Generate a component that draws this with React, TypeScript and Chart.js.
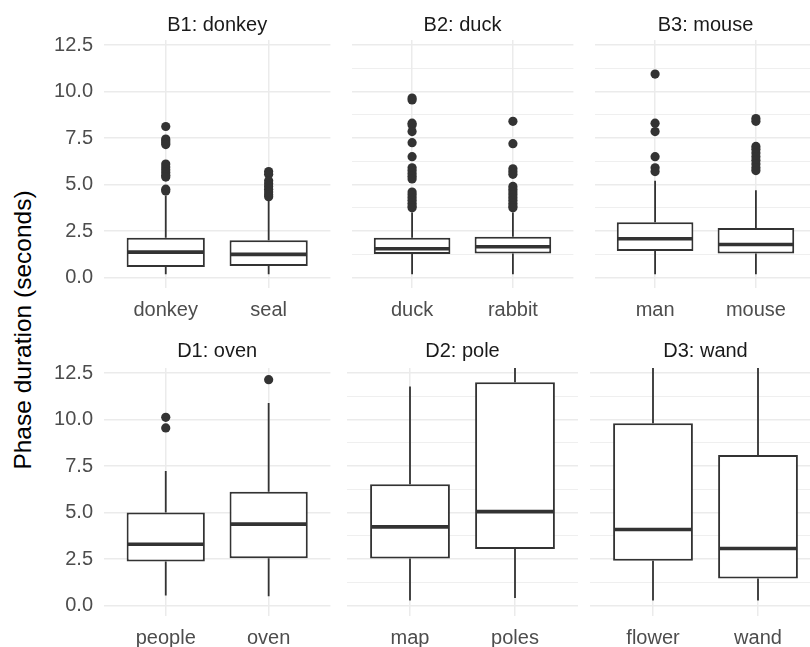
import React, { useEffect, useRef } from 'react';
import { Chart, registerables } from 'chart.js';

Chart.register(...registerables);

// ---------------- data ----------------
const facetTitles = ['B1: donkey', 'B2: duck', 'B3: mouse', 'D1: oven', 'D2: pole', 'D3: wand'];
const categories = [
  ['donkey', 'seal'],
  ['duck', 'rabbit'],
  ['man', 'mouse'],
  ['people', 'oven'],
  ['map', 'poles'],
  ['flower', 'wand'],
];
const whiskerLow = [
  [0.18, 0.18],
  [0.18, 0.18],
  [0.18, 0.18],
  [0.54, 0.5],
  [0.27, 0.41],
  [0.27, 0.27],
];
const q1 = [
  [0.57, 0.62],
  [1.27, 1.29],
  [1.43, 1.29],
  [2.37, 2.55],
  [2.53, 3.04],
  [2.41, 1.46],
];
const medians = [
  [1.37, 1.25],
  [1.55, 1.66],
  [2.09, 1.78],
  [3.3, 4.38],
  [4.23, 5.05],
  [4.09, 3.07],
];
const q3 = [
  [2.14, 2.01],
  [2.14, 2.2],
  [2.98, 2.66],
  [5.0, 6.12],
  [6.52, 12.01],
  [9.8, 8.09],
];
const whiskerHigh = [
  [4.4, 4.2],
  [3.5, 3.5],
  [5.2, 4.69],
  [7.23, 10.89],
  [11.78, 13.6],
  [13.6, 13.6],
];
const outliers = [
  [
    [8.12, 7.45, 7.35, 7.25, 7.15, 6.1, 5.95, 5.8, 5.65, 5.5, 5.4, 4.75, 4.65],
    [5.7, 5.55, 5.2, 5.05, 4.9, 4.75, 4.6, 4.45, 4.35],
  ],
  [
    [9.65, 9.55, 8.3, 8.2, 7.85, 7.25, 6.5, 5.9, 5.75, 5.6, 5.45, 5.3, 4.6, 4.45, 4.3, 4.15, 4.0, 3.85, 3.75],
    [8.4, 7.2, 5.85, 5.7, 5.55, 4.9, 4.75, 4.6, 4.45, 4.3, 4.15, 4.0, 3.85, 3.75],
  ],
  [
    [10.94, 8.3, 7.85, 6.5, 5.9, 5.7],
    [8.55, 8.4, 7.05, 6.9, 6.7, 6.5, 6.3, 6.1, 5.9, 5.75],
  ],
  [
    [10.12, 9.55],
    [12.14],
  ],
  [[], []],
  [[], []],
];
const yTicks = [0, 2.5, 5, 7.5, 10, 12.5];
const yTickLabels = ['0.0', '2.5', '5.0', '7.5', '10.0', '12.5'];
const yMinorTicks = [1.25, 3.75, 6.25, 8.75, 11.25];
const yAxisTitle = 'Phase duration (seconds)';

// ---------------- style / layout ----------------
const FONT = '"Liberation Sans", Arial, Helvetica, sans-serif';
const INK = '#333333';
const GRID = '#EBEBEB';
const PANEL_W = 231;
const PANEL_H = 248;
const TITLE_H = 40;
const XAXIS_H = 40;
const Y_AXIS_W = 64;
const PANEL_LEFTS = [104, 347, 590];
const ROW_TOPS = [0, 328];
const Y_MIN = -0.56;
const Y_MAX = 12.77;

function makeBoxPlugin(f: number) {
  return {
    id: 'boxParts' + f,
    beforeDatasetsDraw(chart: any) {
      const { ctx, chartArea } = chart;
      const xs = chart.scales.x;
      const ys = chart.scales.y;
      ctx.save();
      ctx.beginPath();
      ctx.rect(chartArea.left, chartArea.top, chartArea.right - chartArea.left, chartArea.bottom - chartArea.top);
      ctx.clip();
      ctx.strokeStyle = INK;
      ctx.lineWidth = 1.8;
      for (let j = 0; j < categories[f].length; j++) {
        const px = xs.getPixelForValue(j);
        ctx.beginPath();
        ctx.moveTo(px, ys.getPixelForValue(whiskerHigh[f][j]));
        ctx.lineTo(px, ys.getPixelForValue(q3[f][j]));
        ctx.moveTo(px, ys.getPixelForValue(q1[f][j]));
        ctx.lineTo(px, ys.getPixelForValue(whiskerLow[f][j]));
        ctx.stroke();
      }
      ctx.restore();
    },
    afterDatasetsDraw(chart: any) {
      const { ctx } = chart;
      const ys = chart.scales.y;
      const meta = chart.getDatasetMeta(1);
      ctx.save();
      ctx.strokeStyle = INK;
      ctx.lineWidth = 3.6;
      for (let j = 0; j < meta.data.length; j++) {
        const bar = meta.data[j] as any;
        const py = ys.getPixelForValue(medians[f][j]);
        ctx.beginPath();
        ctx.moveTo(bar.x - bar.width / 2 + 1, py);
        ctx.lineTo(bar.x + bar.width / 2 - 1, py);
        ctx.stroke();
      }
      ctx.restore();
    },
  };
}

function Panel({ f }: { f: number }) {
  const ref = useRef<HTMLCanvasElement | null>(null);
  const col = f % 3;
  const row = Math.floor(f / 3);
  const yW = col === 0 ? Y_AXIS_W : 0;
  const left = PANEL_LEFTS[col] - yW;
  const top = ROW_TOPS[row];
  const width = yW + PANEL_W;
  const height = TITLE_H + PANEL_H + XAXIS_H;

  useEffect(() => {
    if (!ref.current) return;
    const cats = categories[f];
    const scatterData: { x: number; y: number }[] = [];
    cats.forEach((_, j) => outliers[f][j].forEach((v) => scatterData.push({ x: j, y: v })));
    const boxData = cats.map((_, j) => ({ x: j, y: [q1[f][j], q3[f][j]] }));
    const allTicks = [...yTicks, ...yMinorTicks].sort((a, b) => a - b);

    const chart = new Chart(ref.current, {
      type: 'bar',
      data: {
        datasets: [
          {
            type: 'scatter',
            data: scatterData,
            pointRadius: 4.6,
            pointHoverRadius: 4.6,
            pointBackgroundColor: INK,
            pointBorderWidth: 0,
            backgroundColor: INK,
          } as any,
          {
            type: 'bar',
            data: boxData as any,
            backgroundColor: '#FFFFFF',
            borderColor: INK,
            borderWidth: 2,
            borderSkipped: false,
            barPercentage: 0.76,
            categoryPercentage: 1,
          } as any,
        ],
      },
      options: {
        animation: false,
        responsive: false,
        maintainAspectRatio: false,
        devicePixelRatio: 1,
        events: [],
        layout: { padding: 0 },
        plugins: {
          legend: { display: false },
          tooltip: { enabled: false },
          title: {
            display: true,
            fullSize: false,
            text: facetTitles[f],
            color: '#1A1A1A',
            font: { family: FONT, size: 20, weight: 'normal', lineHeight: 1.2 },
            padding: row === 0 ? { top: 13, bottom: 3 } : { top: 11, bottom: 5 },
          },
        },
        scales: {
          x: {
            type: 'linear',
            min: -0.6,
            max: 1.6,
            offset: false,
            afterBuildTicks: (s: any) => {
              s.ticks = cats.map((_, j) => ({ value: j }));
            },
            afterFit: (s: any) => {
              s.height = XAXIS_H;
            },
            grid: { color: GRID, lineWidth: 1.5, drawTicks: false, offset: false },
            border: { display: false },
            ticks: {
              autoSkip: false,
              maxRotation: 0,
              minRotation: 0,
              padding: 10,
              color: '#4D4D4D',
              font: { family: FONT, size: 20 },
              callback: (_v: any, idx: number) => cats[idx],
            },
          },
          y: {
            type: 'linear',
            min: Y_MIN,
            max: Y_MAX,
            afterBuildTicks: (s: any) => {
              s.ticks = allTicks.map((v) => ({ value: v }));
            },
            afterFit: (s: any) => {
              s.width = yW;
            },
            grid: {
              color: GRID,
              lineWidth: (c: any) => (yTicks.indexOf(c.tick?.value) >= 0 ? 1.5 : 0.8),
              drawTicks: false,
            },
            border: { display: false },
            ticks: {
              display: col === 0,
              padding: 11,
              color: '#4D4D4D',
              font: { family: FONT, size: 20 },
              callback: (v: any) => {
                const k = yTicks.indexOf(Number(v));
                return k >= 0 ? yTickLabels[k] : '';
              },
            },
          },
        },
      } as any,
      plugins: [makeBoxPlugin(f)],
    });
    return () => chart.destroy();
  }, [f]);

  return (
    <canvas
      ref={ref}
      width={width}
      height={height}
      style={{ position: 'absolute', left, top, width, height }}
    />
  );
}

export default function App() {
  return (
    <div
      style={{
        position: 'fixed',
        left: 0,
        top: 0,
        width: 810,
        height: 647,
        overflow: 'hidden',
        background: '#FFFFFF',
      }}
    >
      {facetTitles.map((_, f) => (
        <Panel key={f} f={f} />
      ))}
      <div
        style={{
          position: 'absolute',
          left: 22.5,
          top: 330,
          transform: 'translate(-50%, -50%) rotate(-90deg)',
          whiteSpace: 'nowrap',
          fontFamily: FONT,
          fontSize: 24.5,
          lineHeight: 1,
          color: '#000000',
        }}
      >
        {yAxisTitle}
      </div>
    </div>
  );
}
